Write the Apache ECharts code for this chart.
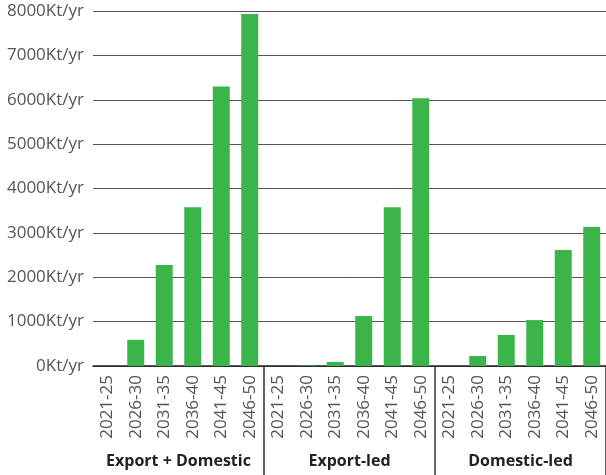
<!DOCTYPE html>
<html>
<head>
<meta charset="utf-8">
<script src="https://cdn.jsdelivr.net/npm/echarts@6/dist/echarts.min.js"></script>
<style>
html,body{margin:0;padding:0;background:#fff;}
#chart{width:606px;height:475px;}
</style>
</head>
<body>
<div id="chart"></div>
<script>
var periods = ['2021-25','2026-30','2031-35','2036-40','2041-45','2046-50'];
var groups = ['Export + Domestic','Export-led','Domestic-led'];
var exportDomestic = [0, 590, 2275, 3580, 6300, 7930];
var exportLed = [0, 10, 90, 1125, 3580, 6035];
var domesticLed = [0, 225, 700, 1035, 2615, 3130];
var yTicks = [0,1000,2000,3000,4000,5000,6000,7000,8000];

var categories = [];
var values = [];
[exportDomestic, exportLed, domesticLed].forEach(function(arr, gi){
  arr.forEach(function(v, i){
    categories.push(gi + '|' + periods[i]);
    values.push(v);
  });
});

var font = '"Open Sans", sans-serif';
var chart = echarts.init(document.getElementById('chart'), null, {renderer:'canvas'});
chart.setOption({
  animation: false,
  backgroundColor: '#fff',
  grid: {left: 93, right: -3, top: 11, bottom: 109, containLabel: false},
  xAxis: [{
    type: 'category',
    data: categories,
    position: 'bottom',
    axisLine: {show: true, lineStyle: {color: '#222', width: 1.5}},
    axisTick: {show: false},
    axisLabel: {
      rotate: 90, margin: 9, color: '#555', fontSize: 17, fontFamily: font,
      interval: 0,
      formatter: function(v){ return v.split('|')[1]; }
    }
  }, {
    type: 'category',
    data: groups,
    position: 'bottom',
    axisLine: {show: false},
    axisTick: {
      show: true, length: 112, inside: false,
      interval: function(i){ return i === 1 || i === 2; },
      lineStyle: {color: '#333', width: 1.5}
    },
    axisLabel: {margin: 87, color: '#222', fontSize: 16, fontWeight: 'bold', fontFamily: font, interval: 0}
  }],
  yAxis: {
    type: 'value',
    min: yTicks[0], max: yTicks[yTicks.length-1], interval: 1000,
    axisLine: {show: false},
    axisTick: {show: false},
    splitLine: {show: true, lineStyle: {color: '#555', width: 1}},
    axisLabel: {margin: 9, color: '#555', fontSize: 17, fontFamily: font,
      formatter: function(v){ return String(v) + 'Kt/yr'; }}
  },
  series: [{
    type: 'bar',
    xAxisIndex: 0,
    data: values,
    barWidth: 17,
    itemStyle: {color: '#3bb54a'}
  }]
});
</script>
</body>
</html>
